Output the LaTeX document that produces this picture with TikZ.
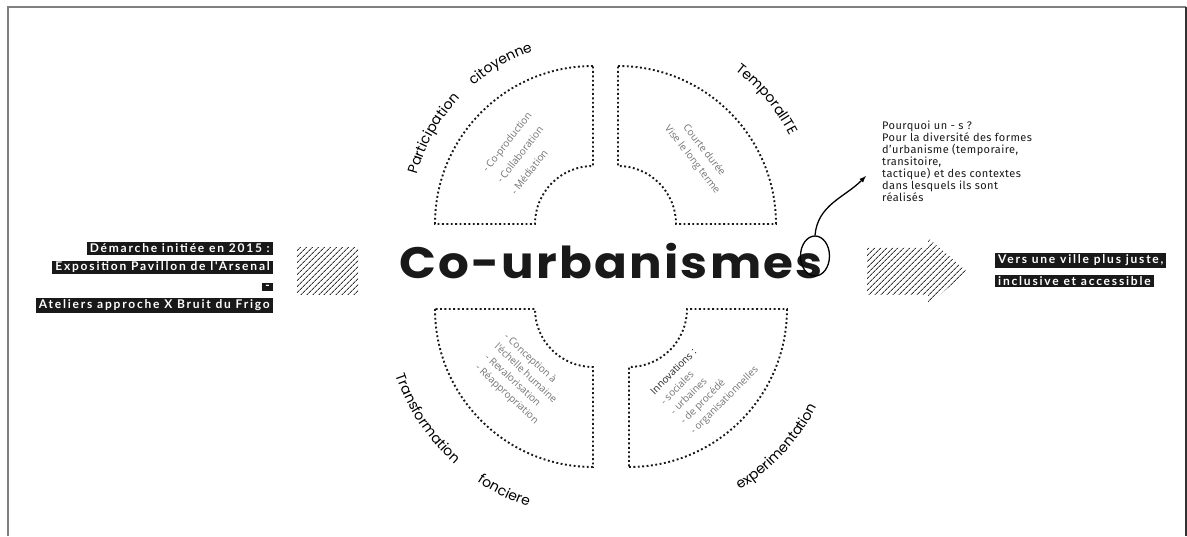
\documentclass[tikz,border=0pt]{standalone}
\usepackage{fontspec}
\usepackage{tikz}
\usetikzlibrary{
    arrows,
    calc,
    positioning,
    decorations.text,
    patterns.meta,
    shapes.geometric
}
\setmainfont{Open Sans}
\newfontfamily\titlefont{Poppins}[LetterSpace=5, FakeStretch=1.1]
\newfontfamily\arcfont{Poppins}[LetterSpace=4]
\newfontfamily\boxfont{Lato}[LetterSpace=15]
\newfontfamily\innerfont{Open Sans}
\newfontfamily\notefont{Fira Sans}[LetterSpace=4]
\newcommand{\arcsize}{\arcfont\fontsize{14}{15}\selectfont}

\tikzset{
    sector/.style={draw=black!90, line width=1.9pt, dash pattern=on 1.9pt off 2.5pt},
    blackbox/.style={fill=black!90, text=white, inner xsep=3pt, inner ysep=1.5pt,
        font=\boxfont\bfseries\fontsize{12}{13}\selectfont},
    innertext/.style={text=black!55, font=\innerfont\fontsize{10}{14}\selectfont, align=left},
    hatch/.style={pattern={Lines[angle=45,distance=4pt,line width=0.9pt]}, pattern color=black!80},
    frameline/.style={line width=1.5pt}
}

\begin{document}
\begin{tikzpicture}[x=1pt, y=1pt]
    \useasboundingbox (0,0) rectangle (1187,536);

    \draw[frameline, draw=black!50] (8,0) -- (8,529) -- (1186,529);
    \draw[frameline, draw=black!80] (1186,529) -- (1186,0);

    \coordinate (ul) at (593,312);
    \coordinate (ur) at (618,312);
    \coordinate (ll) at (593,227);
    \coordinate (lr) at (629,227);

    \draw[sector] (ul) ++(90:158) arc[start angle=90, end angle=180, radius=158pt] -- ++(100,0) arc[start angle=180, end angle=90, radius=58pt] -- cycle;
    \draw[sector] (ur) ++(90:158) arc[start angle=90, end angle=0, radius=158pt] -- ++(-100,0) arc[start angle=0, end angle=90, radius=58pt] -- cycle;
    \draw[sector] (ll) ++(180:158) arc[start angle=180, end angle=270, radius=158pt] -- ++(0,100) arc[start angle=270, end angle=180, radius=58pt] -- cycle;
    \draw[sector] (lr) ++(270:158) arc[start angle=270, end angle=360, radius=158pt] -- ++(-100,0) arc[start angle=0, end angle=-90, radius=58pt] -- cycle;

    \path[decorate, decoration={text along path, text align=center, text={|\arcsize|Participation}}]
        (ul) ++(175:183) arc[start angle=175, end angle=126, radius=183pt];
    \path[decorate, decoration={text along path, text align=center, text={|\arcsize|citoyenne}}]
        (ul) ++(140:183) arc[start angle=140, end angle=100, radius=183pt];
    \path[decorate, decoration={text along path, text align=center, text={|\arcsize|TemporalITE}}]
        (ur) ++(62:193) arc[start angle=62, end angle=18, radius=193pt];
    \path[decorate, decoration={text along path, text align=center, text={|\arcsize|Transformation}}]
        (ll) ++(188:208) arc[start angle=188, end angle=239, radius=208pt];
    \path[decorate, decoration={text along path, text align=center, text={|\arcsize|fonciere}}]
        (ll) ++(226:208) arc[start angle=226, end angle=262, radius=208pt];
    \path[decorate, decoration={text along path, text align=center, text={|\arcsize|experimentation}}]
        (lr) ++(288:212) arc[start angle=288, end angle=346, radius=212pt];

    \node[innertext, rotate=52, font=\innerfont\fontsize{10}{18}\selectfont] (ulitems) at (521,383) {- Co-production\\- Collaboration\\- Médiation};
    \node[innertext, rotate=-52, align=center, font=\innerfont\fontsize{10}{15}\selectfont] (uritems) at (698,381) {Courte durée\\Vise le long terme};
    \node[innertext, rotate=-43] (llitems) at (521,157) {- Conception à\\l'échelle humaine\\- Revalorisation\\- Réappropriation};
    \node[innertext, rotate=45] (lritems) at (705,155) {{\color{black!85}Innovations :}\\- sociales\\- urbaines\\- de procédé\\- organisationnelles};

    \node[text=black!90, font=\titlefont\bfseries\fontsize{44}{50}\selectfont] (title) at (611,275) {Co-urbanismes};
    \node[draw, ellipse, line width=1.3pt, minimum width=29pt, minimum height=40pt, inner sep=0pt] (sring) at (815,280) {};
    \coordinate (pointer) at (866,360);
    \draw[-latex, line width=1.3pt] (sring.north) to[out=85, in=225] (pointer);

    \node[anchor=north west, align=left, inner sep=0pt, text=black!90, font=\notefont\fontsize{11}{12}\selectfont] (note) at (882,415)
        {Pourquoi un - s ?\\Pour la diversité des formes\\d’urbanisme (temporaire,\\transitoire,\\tactique) et des contextes\\dans lesquels ils sont\\réalisés};

    \node[blackbox, anchor=east] (demarche) at (273,287.5) {Démarche initiée en 2015 :};
    \node[blackbox, anchor=east] (expo) at (273,268.5) {Exposition Pavillon de l'Arsenal};
    \node[blackbox, anchor=east] (tiret) at (273,249) {-};
    \node[blackbox, anchor=east] (ateliers) at (273,230.5) {Ateliers approche X Bruit du Frigo};

    \path[hatch] (297,288) rectangle (358,241);
    \path[hatch] (867,288) -- (928,288) -- (928,298) -- (967,264.5) -- (928,231) -- (928,241) -- (867,241) -- cycle;

    \node[blackbox, anchor=west] (ville) at (995,275.5) {Vers une ville plus juste,};
    \node[blackbox, anchor=west] (inclusive) at (995,255) {inclusive et accessible};
\end{tikzpicture}
\end{document}
